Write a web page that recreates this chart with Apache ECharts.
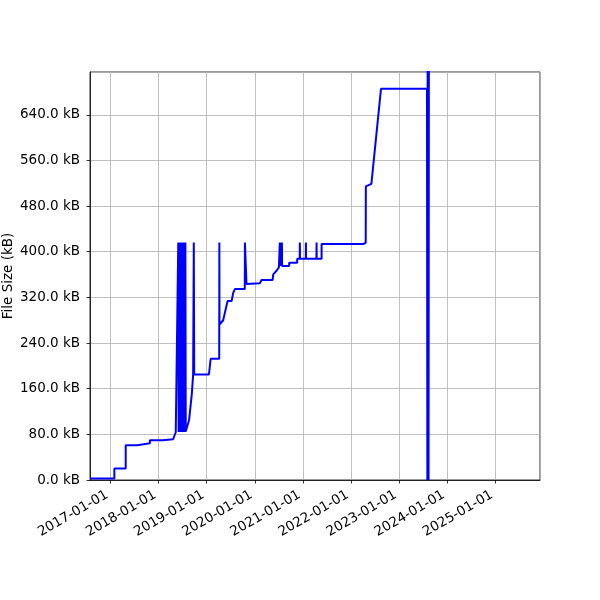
<!DOCTYPE html>
<html>
<head>
<meta charset="utf-8">
<script src="https://cdn.jsdelivr.net/npm/echarts@6/dist/echarts.min.js"></script>
<style>
  html, body { margin: 0; padding: 0; background: #fff; }
  #chart { width: 600px; height: 600px; }
</style>
</head>
<body>
<div id="chart"></div>
<script>
var dates = [
  "2016-07-29", "2017-01-30", "2017-01-30", "2017-04-26", "2017-04-26", "2017-07-23", "2017-07-23",
  "2017-10-27", "2017-10-27", "2018-02-01", "2018-02-01", "2018-04-21", "2018-05-11",
  "2018-05-30", "2018-06-02", "2018-06-05", "2018-06-08", "2018-06-11", "2018-06-14", "2018-06-17",
  "2018-06-20", "2018-06-23", "2018-06-26", "2018-06-29", "2018-07-02", "2018-07-05", "2018-07-08",
  "2018-07-11", "2018-07-14", "2018-07-17", "2018-07-20", "2018-07-23", "2018-07-26",
  "2018-08-07", "2018-08-20", "2018-08-29", "2018-09-10", "2018-09-20", "2018-09-25", "2018-09-28",
  "2019-01-18", "2019-01-31", "2019-04-06", "2019-04-07", "2019-04-08", "2019-05-06", "2019-06-08",
  "2019-07-09", "2019-07-21", "2019-08-03", "2019-10-17", "2019-10-18", "2019-10-30",
  "2020-02-08", "2020-02-21", "2020-05-15", "2020-05-20", "2020-06-14", "2020-07-02",
  "2020-07-08", "2020-07-09", "2020-07-10", "2020-07-24", "2020-07-25", "2020-07-26",
  "2020-09-18", "2020-09-18", "2020-11-18", "2020-11-18", "2020-12-07", "2020-12-08", "2020-12-09",
  "2021-01-22", "2021-01-23", "2021-01-24", "2021-04-13", "2021-04-14", "2021-04-15",
  "2021-05-22", "2021-05-22", "2022-04-02", "2022-04-22", "2022-04-23", "2022-06-04",
  "2022-08-16", "2023-07-31", "2023-08-03", "2023-08-07", "2023-08-12", "2023-08-17"
];
// File size in kB at each date
var sizes = [
  2.5, 2.5, 20, 20, 60.8, 60.8, 64.3,
  64.3, 69.6, 69.6, 71.4, 71.4, 83.7,
  416, 84, 416, 84, 416, 84, 416,
  84, 416, 84, 416, 84, 416, 84,
  416, 84, 416, 84, 416, 85,
  85, 105, 108, 151, 185, 416, 185,
  185, 212.5, 212.5, 416, 272.5, 280, 313.5,
  313.5, 328, 334.5, 334.5, 416, 343.4,
  344.6, 350.4, 350.4, 360.4, 366.7, 372.7,
  375, 416, 375, 375, 416, 375,
  375, 380.8, 380.8, 387.8, 387.8, 416, 387.8,
  387.8, 416, 387.8, 387.8, 416, 387.8,
  387.8, 413.6, 413.6, 415.5, 514.4, 519,
  685.6, 685.6, 0, 1500, 0, 1500
];
var yTickStep = 80;
var yMax = 715;
var xMin = "2016-07-29";
var xMax = "2025-12-05";

var seriesData = dates.map(function (d, i) { return [d, sizes[i]]; });

var chart = echarts.init(document.getElementById('chart'), null, { renderer: 'canvas' });
var FONT = 'DejaVu Sans';
chart.setOption({
  animation: false,
  backgroundColor: '#ffffff',
  grid: {
    left: 90, right: 60, top: 72, bottom: 120,
    show: true, borderColor: '#000', borderWidth: 0.8, backgroundColor: 'transparent',
    containLabel: false,
    outerBoundsMode: 'none'
  },
  xAxis: {
    type: 'time',
    min: xMin,
    max: xMax,
    splitNumber: 10,
    minInterval: 365 * 24 * 3600 * 1000,
    maxInterval: 366 * 24 * 3600 * 1000,
    axisLine: { show: true, lineStyle: { color: '#000', width: 0.8 } },
    axisTick: { show: true, length: 3.5, lineStyle: { color: '#000', width: 0.8 } },
    splitLine: { show: true, lineStyle: { color: '#b0b0b0', width: 0.8 } },
    axisLabel: {
      rotate: 30,
      margin: 12,
      padding: [0, 4, 0, 0],
      color: '#000',
      fontFamily: FONT,
      fontSize: 13.5,
      showMinLabel: false,
      showMaxLabel: false,
      hideOverlap: false,
      formatter: '{yyyy}-{MM}-{dd}'
    }
  },
  yAxis: {
    type: 'value',
    min: 0,
    max: yMax,
    interval: yTickStep,
    name: 'File Size (kB)',
    nameLocation: 'middle',
    nameGap: 75,
    nameMoveOverlap: false,
    nameTextStyle: { color: '#000', fontFamily: FONT, fontSize: 13.5 },
    axisLine: { show: true, lineStyle: { color: '#000', width: 0.8 } },
    axisTick: { show: true, length: 3.5, lineStyle: { color: '#000', width: 0.8 } },
    splitLine: { show: true, lineStyle: { color: '#b0b0b0', width: 0.8 } },
    axisLabel: {
      margin: 10,
      color: '#000',
      fontFamily: FONT,
      fontSize: 13.5,
      showMaxLabel: false,
      formatter: function (v) { return (v % yTickStep === 0) ? v.toFixed(1) + ' kB' : ''; }
    }
  },
  series: [{
    type: 'line',
    data: seriesData,
    showSymbol: false,
    symbol: 'none',
    clip: true,
    lineStyle: { color: '#0000ff', width: 2 },
    itemStyle: { color: '#0000ff' }
  }]
});
</script>
</body>
</html>
